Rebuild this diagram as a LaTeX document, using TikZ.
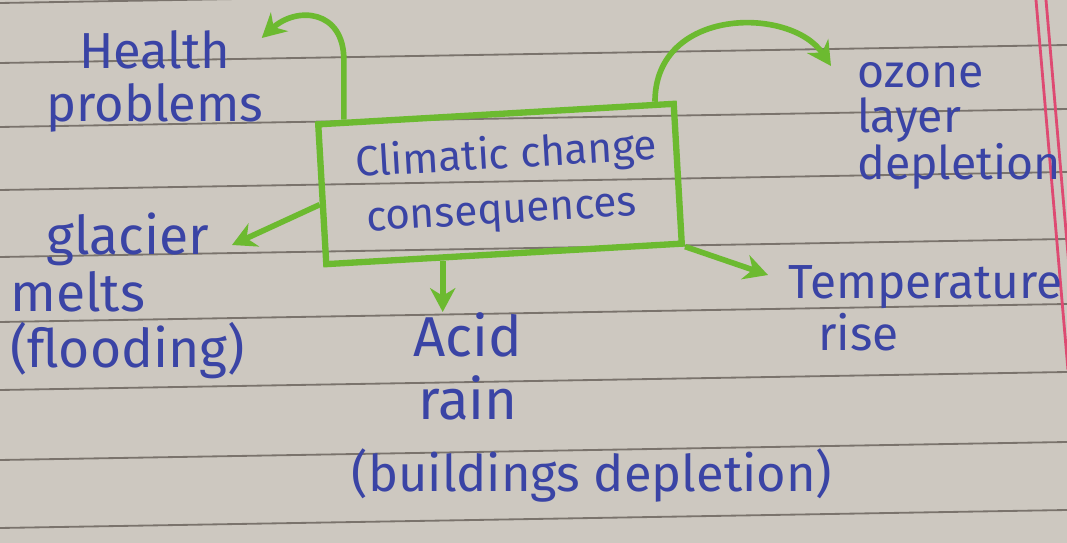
\documentclass[tikz,border=0pt]{standalone}
\usepackage{fontspec}
\setmainfont{Fira Sans}
\usetikzlibrary{arrows.meta,positioning,calc}
\definecolor{paper}{RGB}{205,200,192}
\definecolor{rulegray}{RGB}{122,115,108}
\definecolor{marginred}{RGB}{222,74,114}
\definecolor{ink}{RGB}{58,68,165}
\definecolor{marker}{RGB}{108,186,48}
\tikzset{
ruled/.style={color=rulegray, line width=1.3pt},
marginline/.style={color=marginred, line width=2pt},
inktext/.style={text=ink, inner sep=0pt, align=#1},
inktext/.default=center,
big/.style={font=\fontsize{36}{38}\selectfont},
consbox/.style={draw=marker, line width=4.5pt, text=ink, inner sep=0pt,
  minimum width=8.9cm, minimum height=3.5cm, align=center,
  font=\fontsize{30}{39}\selectfont},
arr/.style={-{Stealth[length=17pt,width=18pt]}, draw=marker, line width=4pt},
}

\begin{document}
\begin{tikzpicture}[x=0.025cm,y=-0.025cm]

        % Paper
        \fill[paper] (0,0) rectangle (1067,543);
        \useasboundingbox (0,0) rectangle (1067,543);
        \begin{scope}
        \clip (0,0) rectangle (1067,543);
        \foreach \y in {3,63,127,190,257,322,390,460,528}
            \draw[ruled] (0,\y) -- (1067,\y-18);
        \draw[marginline] (1036,0) -- (1068,370);
        \draw[marginline] (1046,0) -- (1078,370);
        \end{scope}

        % Central box
        \node[consbox, rotate=3.3] (box) at (500,184)
            {\hspace*{0.4cm}Climatic change\\consequences};

        % Consequences
        \node[inktext, big, anchor=north] (health) at (155,30)
            {Health\\problems};
        \node[inktext=left, font=\fontsize{33}{32}\selectfont, anchor=north west] (ozone) at (857,62)
            {ozone\\layer\\depletion};
        \node[inktext=left, font=\fontsize{38}{40}\selectfont, anchor=north west] (glacier) at (10,213)
            {\hspace*{0.9cm}glacier\\melts\\(flooding)};
        \node[inktext, font=\fontsize{40}{45}\selectfont, anchor=north] (acid) at (468,312)
            {Acid\\rain};
        \node[inktext, font=\fontsize{36}{38}\selectfont, anchor=north] (buildings) at (592,448)
            {(buildings depletion)};
        \node[inktext=left, font=\fontsize{34}{37}\selectfont, anchor=north west] (temp) at (788,265)
            {Temperature\\\hspace*{0.75cm}rise};

        % Arrows
        \draw[arr] ($(box.north west)!0.08!(box.north east)$) -- ++(0,-60)
            .. controls +(0,-50) and +(35,-32) .. ([shift={(-2,8)}]health.north east);
        \draw[arr] ($(box.north west)!0.94!(box.north east)$)
            .. controls +(0,-95) and +(-40,-60) .. ([shift={(-26,4)}]ozone.north west);
        \draw[arr] ($(box.north west)!0.57!(box.south west)$) -- ([shift={(222,32)}]glacier.north west);
        \coordinate (acid start) at ($(box.south west)!0.33!(box.south east)$);
        \draw[arr] (acid start) -- (acid start |- acid.north);
        \draw[arr] (box.south east) -- ([shift={(-20,10)}]temp.north west);

\end{tikzpicture}
\end{document}
